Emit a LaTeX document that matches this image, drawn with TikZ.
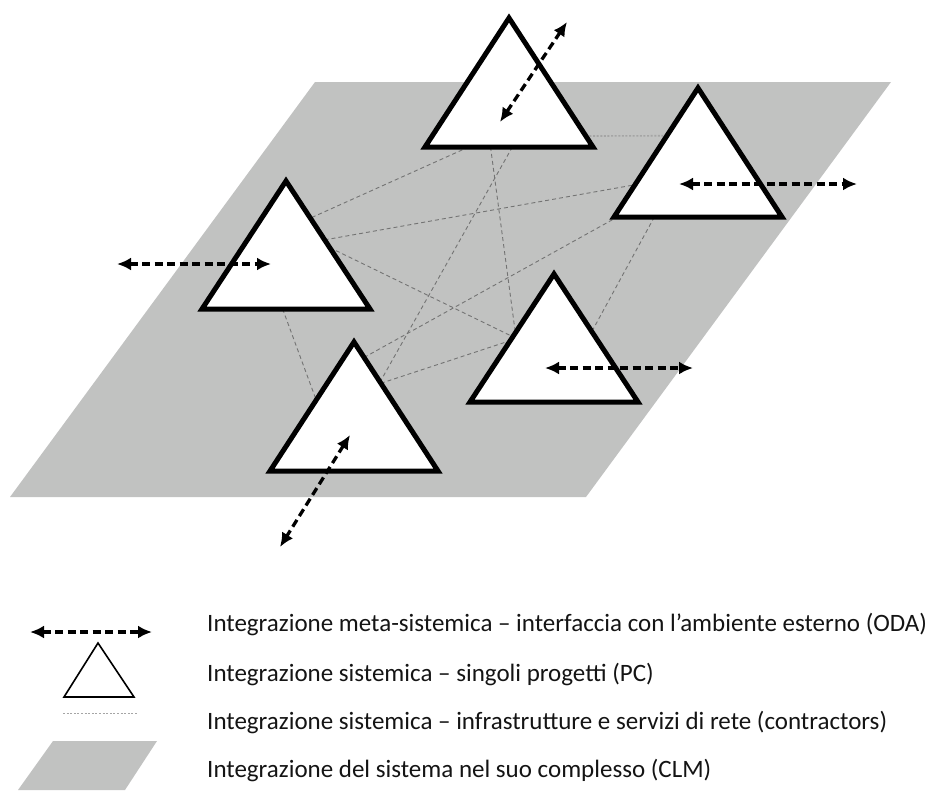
\documentclass[tikz,border=0pt]{standalone}
\usepackage{fontspec}
\setmainfont{Carlito}
\usetikzlibrary{arrows.meta,calc}

\definecolor{planegray}{RGB}{193,194,193}
\definecolor{linkgray}{RGB}{115,115,115}
\definecolor{dotgray}{RGB}{165,165,165}
\definecolor{textgray}{RGB}{20,20,20}

\tikzset{
  plane/.style={fill=planegray, draw=none},
  project/.style={draw=black, line width=5pt, fill=white, line join=miter},
  link/.style={draw=linkgray, line width=0.9pt, dash pattern=on 4pt off 3pt},
  service/.style={draw=dotgray, line width=1.6pt, dash pattern=on 2pt off 1.6pt},
  oda/.style={draw=black, line width=3.3pt, dash pattern=on 8pt off 4.5pt,
    {Latex[length=14pt,width=13pt]}-{Latex[length=14pt,width=13pt]}},
  legendtri/.style={draw=black, line width=1.6pt, fill=white, line join=miter},
  legendtext/.style={anchor=west, text=textgray, font=\fontsize{25}{30}\selectfont, inner sep=0pt}
}

\begin{document}
\begin{tikzpicture}[x=1pt,y=-1pt]
\useasboundingbox (0,0) rectangle (940,807);

% ---- the CLM plane ----
\coordinate (pl-tl) at (315,82);
\coordinate (pl-tr) at (891,82);
\coordinate (pl-br) at (586,497);
\coordinate (pl-bl) at (10,497);
\path[plane] (pl-tl) -- (pl-tr) -- (pl-br) -- (pl-bl) -- cycle;

% ---- project triangles: name / apex x / apex y / base y ----
\foreach \n/\x/\a/\b in {t1/509/18/147, t2/698/88/217, t3/286/181/309,
                         t4/354/342/471, t5/554/274/402}{
  \coordinate (\n-top)   at (\x,\a);
  \coordinate (\n-left)  at (\x-84,\b);
  \coordinate (\n-right) at (\x+84,\b);
}

% ---- connection points on the triangle edges ----
\coordinate (l1a) at ($(t1-left)!0.26!(t1-right)$);
\coordinate (l1b) at ($(t3-top)!0.29!(t3-right)$);
\coordinate (l2a) at ($(t1-left)!0.39!(t1-right)$);
\coordinate (l2b) at ($(t5-top)!0.46!(t5-left)$);
\coordinate (l3a) at ($(t1-left)!0.52!(t1-right)$);
\coordinate (l3b) at ($(t4-top)!0.31!(t4-right)$);
\coordinate (l4a) at ($(t3-top)!0.46!(t3-right)$);
\coordinate (l4b) at ($(t2-top)!0.75!(t2-left)$);
\coordinate (l5a) at ($(t3-top)!0.52!(t3-right)$);
\coordinate (l5b) at ($(t5-top)!0.49!(t5-left)$);
\coordinate (l6a) at ($(t4-top)!0.12!(t4-right)$);
\coordinate (l6b) at ($(t2-left)!0.02!(t2-right)$);
\coordinate (l7a) at ($(t4-top)!0.32!(t4-right)$);
\coordinate (l7b) at ($(t5-top)!0.52!(t5-left)$);
\coordinate (l8a) at ($(t3-left)!0.48!(t3-right)$);
\coordinate (l8b) at ($(t4-top)!0.45!(t4-left)$);
\coordinate (l9a) at ($(t2-left)!0.24!(t2-right)$);
\coordinate (l9b) at ($(t5-top)!0.45!(t5-right)$);
\coordinate (l10a) at ($(t1-top)!0.915!(t1-right)$);
\coordinate (l10b) at ($(t2-top)!0.37!(t2-left)$);

% ---- network links between projects ----
\foreach \k in {1,...,9}{ \draw[link] (l\k a) -- (l\k b); }
\draw[service] (l10a) -- (l10b);

% ---- projects ----
\foreach \n in {t1,t2,t3,t4,t5}{
  \path[project] (\n-top) -- (\n-right) -- (\n-left) -- cycle;
}

% ---- interfaces with the outside environment ----
\coordinate (a1a) at (500,122);  \coordinate (a1b) at (567,22);
\coordinate (a2a) at (679,184);  \coordinate (a2b) at (857,184);
\coordinate (a3a) at (117,264);  \coordinate (a3b) at (271,264);
\coordinate (a4a) at (350,435);  \coordinate (a4b) at (280,547);
\coordinate (a5a) at (545,368);  \coordinate (a5b) at (693,368);
\foreach \k in {1,...,5}{ \draw[oda] (a\k a) -- (a\k b); }

% ---- legend ----
\coordinate (la-l) at (30,632);  \coordinate (la-r) at (152,632);
\draw[oda] (la-l) -- (la-r);

\coordinate (lt-top) at (98,643); \coordinate (lt-l) at (64,697); \coordinate (lt-r) at (134,697);
\path[legendtri] (lt-top) -- (lt-r) -- (lt-l) -- cycle;

\coordinate (ld-l) at (63,713); \coordinate (ld-r) at (137,713);
\draw[service, line width=1pt] (ld-l) -- (ld-r);

\coordinate (lp-tl) at (53,741); \coordinate (lp-tr) at (157,741);
\coordinate (lp-br) at (125,790); \coordinate (lp-bl) at (18,790);
\path[plane] (lp-tl) -- (lp-tr) -- (lp-br) -- (lp-bl) -- cycle;

\node[legendtext] (txt1) at (207,624) {Integrazione meta-sistemica – interfaccia con l’ambiente esterno (ODA)};
\node[legendtext] (txt2) at (207,674) {Integrazione sistemica – singoli progetti (PC)};
\node[legendtext] (txt3) at (207,722) {Integrazione sistemica – infrastrutture e servizi di rete (contractors)};
\node[legendtext] (txt4) at (207,770) {Integrazione del sistema nel suo complesso (CLM)};
\end{tikzpicture}
\end{document}
